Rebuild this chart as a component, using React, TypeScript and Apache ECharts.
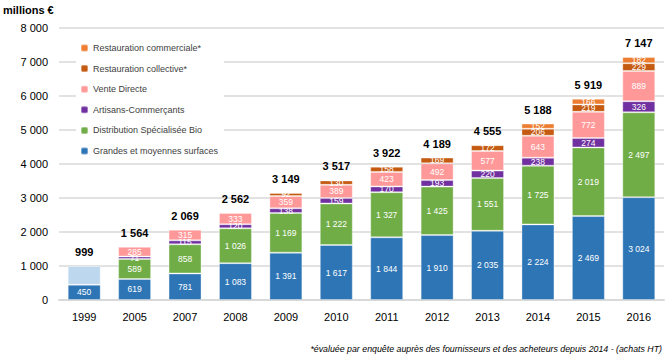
import React, { useEffect, useRef } from "react";
import * as echarts from "echarts";

const years = ["1999", "2005", "2007", "2008", "2009", "2010", "2011", "2012", "2013", "2014", "2015", "2016"];
const gms = [450, 619, 781, 1083, 1391, 1617, 1844, 1910, 2035, 2224, 2469, 3024];
const other1999 = [549, null, null, null, null, null, null, null, null, null, null, null];
const distrib = [null, 589, 858, 1026, 1169, 1222, 1327, 1425, 1551, 1725, 2019, 2497];
const artisans = [null, 71, 115, 120, 138, 159, 170, 193, 220, 238, 274, 326];
const venteDirecte = [null, 285, 315, 333, 359, 389, 423, 492, 577, 643, 772, 889];
const restoCollective = [null, null, null, null, 92, 130, 158, 169, 172, 206, 219, 229];
const restoCommerciale = [null, null, null, null, null, null, null, null, null, 152, 166, 182];
const totals = [999, 1564, 2069, 2562, 3149, 3517, 3922, 4189, 4555, 5188, 5919, 7147];
const yTicks = [0, 1000, 2000, 3000, 4000, 5000, 6000, 7000, 8000];

const fmt = (v: number) => String(v).replace(/\B(?=(\d{3})+(?!\d))/g, " ");
const FONT = "Liberation Sans";

export default function App() {
  const ref = useRef<HTMLDivElement>(null);
  useEffect(() => {
    const chart = echarts.init(ref.current!, null, { renderer: "svg" });
    const segLabel = {
      show: true,
      position: "inside",
      color: "#fff",
      fontSize: 8.5,
      fontFamily: FONT,
      formatter: (p: any) => fmt(p.value),
    };
    const mk = (name: string, data: any[], color: string, label = true) => ({
      name,
      type: "bar",
      stack: "s",
      barWidth: 33,
      data,
      itemStyle: { color, borderColor: "rgba(255,255,255,0.35)", borderWidth: 1 },
      label: label ? segLabel : { show: false },
      emphasis: { disabled: true },
    });
    chart.setOption({
      animation: false,
      textStyle: { fontFamily: FONT },
      grid: { left: 59, right: 4, top: 28, bottom: 61 },
      legend: {
        orient: "vertical",
        left: 76,
        top: 38,
        backgroundColor: "#fff",
        padding: [4, 6, 4, 4],
        itemWidth: 7,
        itemHeight: 7,
        itemGap: 8.6,
        textStyle: { fontSize: 9, color: "#404040", fontFamily: FONT, lineHeight: 12 },
        data: [
          "Restauration commerciale*",
          "Restauration collective*",
          "Vente Directe",
          "Artisans-Commerçants",
          "Distribution Spécialisée Bio",
          "Grandes et moyennes surfaces",
        ],
        selectedMode: false,
      },
      xAxis: {
        type: "category",
        data: years,
        axisTick: { show: false },
        axisLine: { lineStyle: { color: "#d9d9d9", width: 2 } },
        axisLabel: { color: "#000", fontSize: 11, margin: 11, fontFamily: FONT },
      },
      yAxis: {
        type: "value",
        min: 0,
        max: 8000,
        interval: 1000,
        axisLabel: {
          color: "#000",
          fontSize: 11,
          margin: 11,
          fontFamily: FONT,
          formatter: (v: number) => (yTicks.includes(v) ? fmt(v) : ""),
        },
        splitLine: { lineStyle: { color: "#d9d9d9", width: 1.5 } },
      },
      series: [
        mk("Grandes et moyennes surfaces", gms, "#2e75b6"),
        mk("Autres 1999", other1999, "#bdd7ee", false),
        mk("Distribution Spécialisée Bio", distrib, "#70ad47"),
        mk("Artisans-Commerçants", artisans, "#7030a0"),
        mk("Vente Directe", venteDirecte, "#ff9999"),
        mk("Restauration collective*", restoCollective, "#c55a11"),
        mk("Restauration commerciale*", restoCommerciale, "#ed7d31"),
        {
          name: "Total",
          type: "line",
          data: totals,
          symbol: "circle",
          symbolSize: 1,
          showSymbol: true,
          itemStyle: { color: "rgba(0,0,0,0)" },
          lineStyle: { opacity: 0 },
          silent: true,
          z: 10,
          label: {
            show: true,
            position: "top",
            distance: 8,
            color: "#000",
            fontSize: 11,
            fontWeight: "bold",
            fontFamily: FONT,
            formatter: (p: any) => fmt(p.value),
          },
        },
      ],
      graphic: [
        {
          type: "text",
          left: 3,
          top: 4,
          style: { text: "millions €", fontSize: 11, fontWeight: "bold", fill: "#000", fontFamily: FONT },
        },
        {
          type: "text",
          right: 6,
          top: 344,
          style: {
            text: "*évaluée par enquête auprès des fournisseurs et des acheteurs depuis 2014 - (achats HT)",
            fontSize: 8.8,
            fontStyle: "italic",
            fill: "#000",
            fontFamily: FONT,
          },
        },
      ],
    });
    return () => chart.dispose();
  }, []);
  return <div ref={ref} style={{ width: 668, height: 361, position: "absolute", left: 0, top: 0 }} />;
}
